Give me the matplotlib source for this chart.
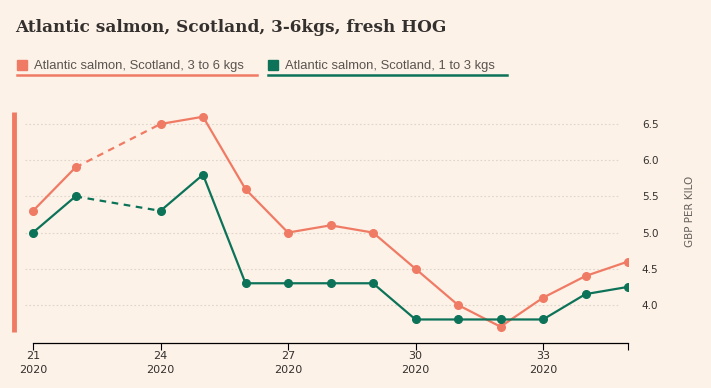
import matplotlib

matplotlib.use("Agg")
import matplotlib.pyplot as plt  # noqa: E402
import numpy as np  # noqa: E402
from matplotlib.lines import Line2D  # noqa: E402

# semanas 21..35 de 2020; semana 23 sem dado
weeks = [21, 22, 23, 24, 25, 26, 27, 28, 29, 30, 31, 32, 33, 34, 35]
salmon_3_6 = [5.3, 5.9, None, 6.5, 6.6, 5.6, 5.0, 5.1, 5.0, 4.5, 4.0, 3.7, 4.1, 4.4, 4.6]
salmon_1_3 = [5.0, 5.5, None, 5.3, 5.8, 4.3, 4.3, 4.3, 4.3, 3.8, 3.8, 3.8, 3.8, 4.15, 4.25]
series_names = ["Atlantic salmon, Scotland, 3 to 6 kgs", "Atlantic salmon, Scotland, 1 to 3 kgs"]
xtick_weeks = [21, 24, 27, 30, 33]
ytick_vals = [4.0, 4.5, 5.0, 5.5, 6.0, 6.5]

BG = "#FDF2E8"
SALMON = "#F07B65"
GREEN = "#0C7359"
TEXT = "#33302E"
MUTED = "#5A5450"
GRID = "#DED5CB"
NARROW = ["Liberation Sans Narrow", "DejaVu Sans"]


def draw_series(ax, x, y, color, z):
    x = np.array(x, dtype=float)
    y = np.array([np.nan if v is None else v for v in y], dtype=float)
    ax.plot(x, y, color=color, lw=1.6, marker="o", ms=5.5, zorder=z)
    # liga os buracos com tracejado
    ok = np.where(~np.isnan(y))[0]
    for a, b in zip(ok[:-1], ok[1:]):
        if b - a > 1:
            ax.plot([x[a], x[b]], [y[a], y[b]], color=color, lw=1.6,
                    ls=(0, (3, 2.5)), zorder=z)


fig = plt.figure(figsize=(7.11, 3.88), dpi=100, facecolor=BG)
W, H = 711, 388
ax = fig.add_axes([24.5 / W, (H - 343) / H, (628 - 24.5) / W, (343 - 109.5) / H])
ax.set_facecolor(BG)

draw_series(ax, weeks, salmon_3_6, SALMON, 3)
draw_series(ax, weeks, salmon_1_3, GREEN, 4)

ax.set_xlim(20.8, 35)
ax.set_ylim(3.475, 6.7)

ax.hlines(ytick_vals, 20.8, 34.8, colors=GRID, lw=0.8, linestyles=(0, (1.5, 2)), zorder=1)

for side in ("top", "left", "right"):
    ax.spines[side].set_visible(False)
ax.spines["bottom"].set_bounds(21, 35)
ax.spines["bottom"].set_color("#000000")
ax.spines["bottom"].set_linewidth(0.9)

ax.set_xticks(xtick_weeks + [35])
ax.set_xticklabels([f"{w}\n2020" for w in xtick_weeks] + [""],
                   fontsize=8, color=TEXT, linespacing=1.4, family=NARROW)
ax.tick_params(axis="x", length=5, width=0.8, color="#000000", pad=1)

ax.yaxis.tick_right()
ax.set_yticks(ytick_vals)
ax.set_yticklabels([f"{v:.1f}" for v in ytick_vals], fontsize=7.5, color=TEXT)
ax.tick_params(axis="y", length=0, pad=10)

fig.text(690 / W, 1 - 211 / H, "GBP PER KILO", rotation=90,
         ha="center", va="center", fontsize=7.5, color="#66605C")

fig.text(15 / W, 1 - 27 / H, "Atlantic salmon, Scotland, 3-6kgs, fresh HOG",
         fontsize=12.2, fontweight="bold", family="DejaVu Serif", color=TEXT,
         ha="left", va="center")

# legenda manual com sublinhado
legend = [(series_names[0], SALMON, 17, 257), (series_names[1], GREEN, 268, 507)]
for name, color, x0, x1 in legend:
    fig.patches.append(plt.Rectangle((x0 / W, 1 - 70 / H), 10 / W, 10 / H,
                                     transform=fig.transFigure, color=color))
    fig.text((x0 + 17) / W, 1 - 66 / H, name, fontsize=9.4, color=MUTED,
             family="Liberation Sans", ha="left", va="center")
    fig.lines.append(Line2D([x0 / W, x1 / W], [1 - 75 / H] * 2, transform=fig.transFigure,
                            color=color, lw=1.8))

# barra vertical a esquerda
fig.lines.append(Line2D([14.5 / W] * 2, [1 - 112 / H, 1 - 332 / H], transform=fig.transFigure,
                        color=SALMON, lw=3.5, solid_capstyle="butt"))

fig.savefig("out.png", dpi=100, facecolor=BG)
